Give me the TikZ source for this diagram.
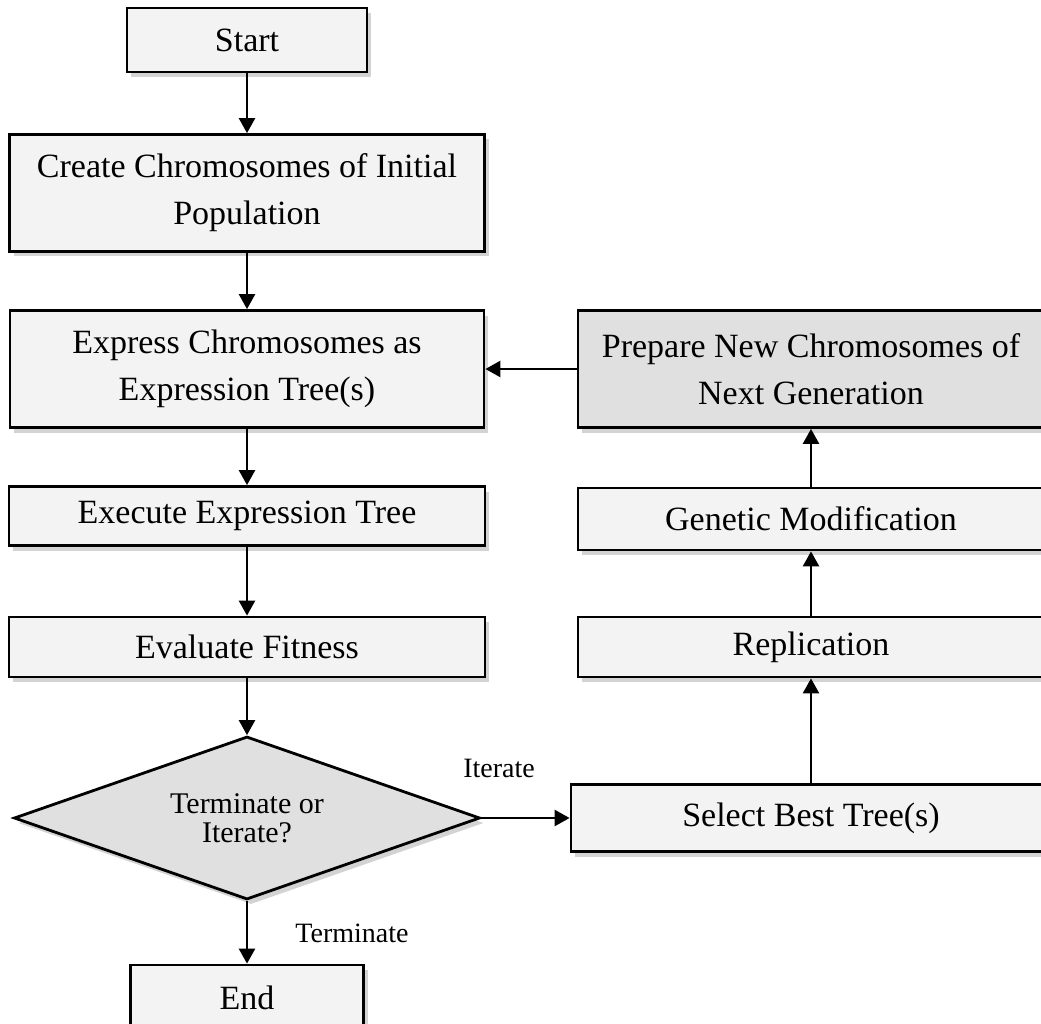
\documentclass[tikz,border=0pt]{standalone}
\usepackage{fontspec}
\setmainfont{Liberation Serif}
\usetikzlibrary{shapes.geometric,arrows.meta,shadows}

\definecolor{boxfill}{HTML}{F3F3F3}
\definecolor{darkfill}{HTML}{E0E0E0}

\begin{document}
\begin{tikzpicture}[x = 1pt, y = -1pt,
    stepbox/.style = {draw, line width = 2.8pt, fill = boxfill, align = center, inner sep = 0pt,
        font = \fontsize{34}{47}\selectfont,
        drop shadow = {shadow xshift = 4pt, shadow yshift = -5pt, opacity = 0.35}},
    decision/.style = {diamond, draw, line width = 2.8pt, fill = darkfill, align = center, inner sep = 0pt,
        aspect = 2.86, minimum width = 466pt, minimum height = 163pt,
        font = \fontsize{30}{29}\selectfont,
        drop shadow = {shadow xshift = 4pt, shadow yshift = -5pt, opacity = 0.35}},
    flow/.style = {line width = 2.5pt, -{Triangle[length = 15pt, width = 16pt]}},
    note/.style = {font = \fontsize{28}{28}\selectfont}]
    \clip (0,0) rectangle (1041,1024);
    % left column
    \node[stepbox, minimum width = 240pt, minimum height = 64pt] (start) at (247,40) {Start};
    \node[stepbox, minimum width = 475pt, minimum height = 117pt] (create) at (247,193) {Create Chromosomes of Initial\\Population};
    \node[stepbox, minimum width = 474pt, minimum height = 117pt] (express) at (247,369) {Express Chromosomes as\\Expression Tree(s)};
    \node[stepbox, minimum width = 476pt, minimum height = 59pt] (execute) at (247,516) {Execute Expression Tree};
    \node[stepbox, minimum width = 476pt, minimum height = 60pt] (evaluate) at (247,647) {Evaluate Fitness};
    \node[decision] (check) at (247,818) {Terminate or\\Iterate?};
    \node[stepbox, minimum width = 233pt, minimum height = 66pt] (stop) at (247,998) {End};
    % right column
    \node[stepbox, fill = darkfill, minimum width = 466pt, minimum height = 117pt] (prepare) at (811,369) {Prepare New Chromosomes of\\Next Generation};
    \node[stepbox, minimum width = 466pt, minimum height = 62pt] (modify) at (811,519) {Genetic Modification};
    \node[stepbox, minimum width = 466pt, minimum height = 60pt] (replicate) at (811,647) {Replication};
    \node[stepbox, minimum width = 480pt, minimum height = 67pt] (select) at (811,818) {Select Best Tree(s)};
    % labels
    \node[note] (iterlabel) at (499,768) {Iterate};
    \node[note] (termlabel) at (352,933) {Terminate};
    % connectors
    \draw[flow] (start) -- (create);
    \draw[flow] (create) -- (express);
    \draw[flow] (express) -- (execute);
    \draw[flow] (execute) -- (evaluate);
    \draw[flow] (evaluate) -- (check);
    \draw[flow] (check) -- (stop);
    \draw[flow] (check) -- (select);
    \draw[flow] (select) -- (replicate);
    \draw[flow] (replicate) -- (modify);
    \draw[flow] (modify) -- (prepare);
    \draw[flow] (prepare) -- (express);
\end{tikzpicture}
\end{document}
